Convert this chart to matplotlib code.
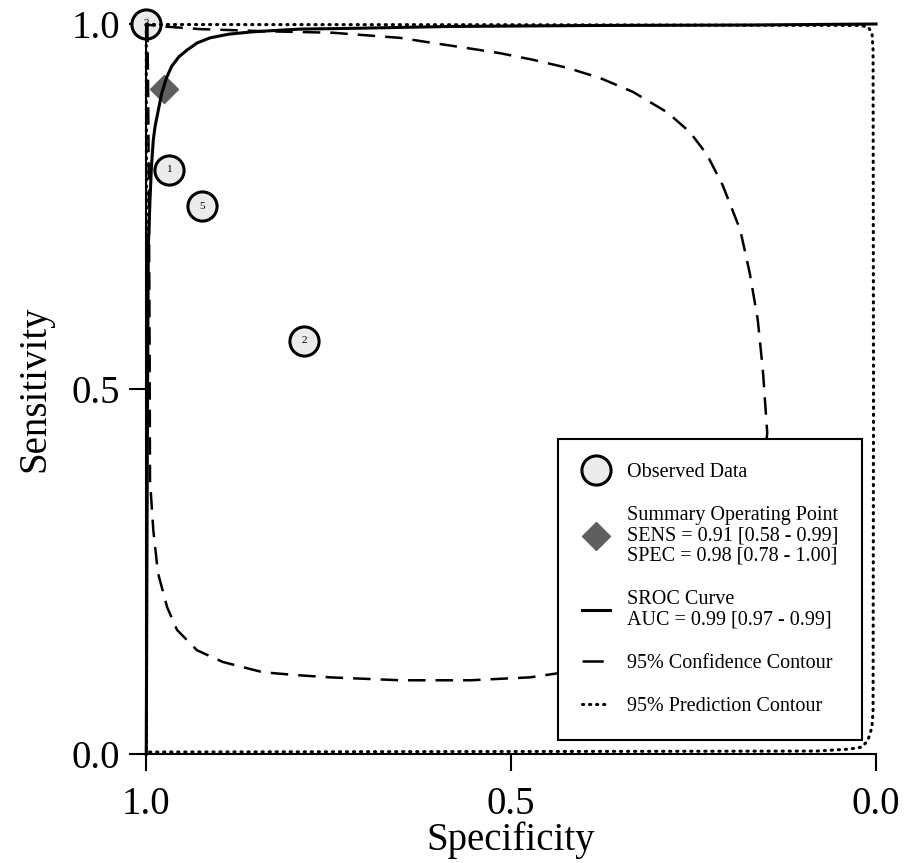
import matplotlib
matplotlib.use("Agg")
import matplotlib.pyplot as plt
from matplotlib.lines import Line2D

plt.rcParams["font.family"] = ["Liberation Serif", "DejaVu Serif"]

# observed studies (specificity, sensitivity)
study_ids = ["1", "2", "3", "5"]
study_spec = [0.968, 0.783, 1.000, 0.923]
study_sens = [0.800, 0.566, 1.000, 0.750]

# summary operating point
summary_spec = 0.976
summary_sens = 0.911

# SROC curve
sroc_spec = [0.9996, 0.9989, 0.9982, 0.9968, 0.9945, 0.9925, 0.990, 0.9875, 0.9845, 0.9785,
             0.972, 0.9648, 0.955, 0.9442, 0.930, 0.9123, 0.887, 0.8575, 0.825, 0.789,
             0.7205, 0.5836, 0.378, 0.173, 0.0]
sroc_sens = [0.0, 0.211, 0.416, 0.695, 0.759, 0.805, 0.841, 0.860, 0.875, 0.905,
             0.926, 0.942, 0.955, 0.964, 0.974, 0.981, 0.986, 0.989, 0.991, 0.993,
             0.994, 0.9966, 0.998, 0.9986, 1.0]

# 95% confidence contour
conf_spec = [0.998, 0.997, 0.996, 0.995, 0.9945, 0.990, 0.9836, 0.971, 0.9575, 0.930,
             0.8945, 0.840, 0.793, 0.748, 0.652, 0.556, 0.474, 0.433, 0.351, 0.255,
             0.186, 0.156, 0.149, 0.155, 0.162, 0.173, 0.186, 0.210, 0.2315, 0.255,
             0.286, 0.333, 0.378, 0.423, 0.470, 0.515, 0.560, 0.607, 0.652, 0.744,
             0.834, 0.926, 0.981, 0.998]
conf_sens = [0.999, 0.896, 0.759, 0.553, 0.375, 0.307, 0.248, 0.201, 0.170, 0.142,
             0.126, 0.112, 0.108, 0.105, 0.101, 0.101, 0.105, 0.111, 0.129, 0.177,
             0.266, 0.375, 0.440, 0.526, 0.595, 0.659, 0.718, 0.779, 0.821, 0.852,
             0.879, 0.907, 0.926, 0.940, 0.951, 0.960, 0.967, 0.974, 0.981, 0.988,
             0.990, 0.993, 0.997, 0.999]

# 95% prediction contour
pred_spec = [0.9996, 0.515, 0.022, 0.011, 0.0055, 0.004, 0.0034, 0.004, 0.0055, 0.011,
             0.019, 0.0356, 0.081, 0.515, 0.9993, 0.9989, 0.9996]
pred_sens = [0.9993, 0.999, 0.998, 0.996, 0.988, 0.964, 0.485, 0.060, 0.037, 0.019,
             0.0096, 0.0068, 0.004, 0.0034, 0.0027, 0.485, 0.9993]

legend_labels = [
    "Observed Data",
    "Summary Operating Point\nSENS = 0.91 [0.58 - 0.99]\nSPEC = 0.98 [0.78 - 1.00]",
    "SROC Curve\nAUC = 0.99 [0.97 - 0.99]",
    "95% Confidence Contour",
    "95% Prediction Contour",
]

fig = plt.figure(figsize=(9.09, 8.63), dpi=100)
ax = fig.add_axes([0.1606, 0.1263, 0.8031, 0.8459])

circle_style = dict(marker="o", ms=21, mfc="#ebebeb", mec="black", mew=2.2, ls="none")
diamond_style = dict(marker="D", ms=14, mfc="#5f5f5f", mec="#5f5f5f", ls="none")
dot_style = dict(color="black", lw=2.2, dashes=(0.4, 1.9), dash_capstyle="round")

ax.plot(study_spec, study_sens, clip_on=False, zorder=2, **circle_style)
for sid, sx, sy in zip(study_ids, study_spec, study_sens):
    ax.text(sx, sy, sid, fontsize=8, ha="center", va="center", zorder=2.5, clip_on=False)
ax.plot([summary_spec], [summary_sens], clip_on=False, zorder=2, **diamond_style)

ax.plot(sroc_spec, sroc_sens, color="black", lw=2.2, zorder=3, clip_on=False)
ax.plot(conf_spec, conf_sens, color="black", lw=1.8, dashes=(7, 4), zorder=3, clip_on=False)
ax.plot(pred_spec, pred_sens, zorder=3, clip_on=False, **dot_style)

ax.set_xlim(1.0, 0.0)
ax.set_ylim(0.0, 1.0)
ax.set_xticks([1.0, 0.5, 0.0])
ax.set_yticks([0.0, 0.5, 1.0])
ax.set_xticklabels(["1.0", "0.5", "0.0"])
ax.set_yticklabels(["0.0", "0.5", "1.0"])
ax.tick_params(direction="out", length=12, width=1.5, labelsize=28)
ax.tick_params(axis="x", pad=11)
ax.tick_params(axis="y", pad=6.5)
for side in ("top", "right"):
    ax.spines[side].set_visible(False)
for side in ("left", "bottom"):
    ax.spines[side].set_linewidth(1.5)
ax.set_xlabel("Specificity", fontsize=28, labelpad=-1)
ax.set_ylabel("Sensitivity", fontsize=28, labelpad=13)

handles = [
    Line2D([], [], **circle_style),
    Line2D([], [], **diamond_style),
    Line2D([], [], color="black", lw=2.2),
    Line2D([], [], color="black", lw=1.8, dashes=(8.5, 8)),
    Line2D([], [], **dot_style),
]
leg = ax.legend(handles, legend_labels, loc="lower right", bbox_to_anchor=(0.981, 0.019),
                borderaxespad=0, fontsize=14.5, frameon=True, fancybox=False,
                edgecolor="black", framealpha=1, borderpad=1.2, labelspacing=1.2,
                handlelength=1.4, handletextpad=0.8)
leg.get_frame().set_linewidth(1.5)
leg.set_zorder(5)
for t in leg.get_texts():
    t.set_linespacing(1.1)

fig.savefig("out.png", dpi=100)
